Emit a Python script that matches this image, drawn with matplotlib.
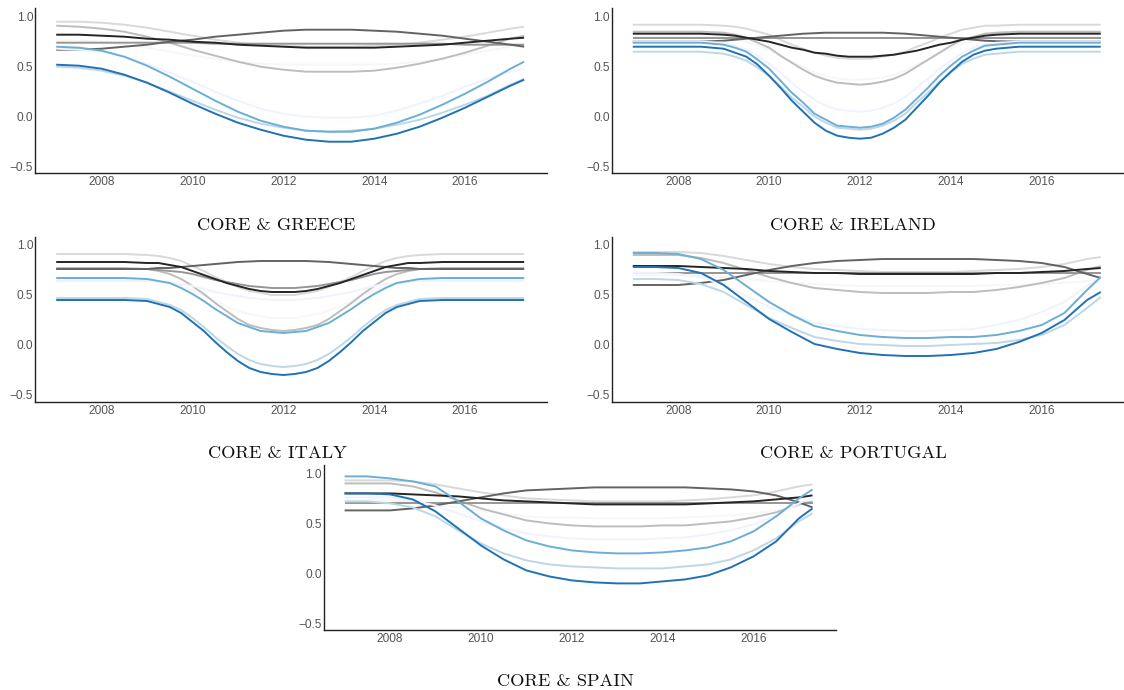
import matplotlib
matplotlib.use("Agg")
import matplotlib.pyplot as plt

# ---------------- data ----------------
# half-year grid (Greece, Portugal, Spain)
years = [2007.0, 2007.5, 2008.0, 2008.5, 2009.0, 2009.5, 2010.0, 2010.5, 2011.0, 2011.5,
         2012.0, 2012.5, 2013.0, 2013.5, 2014.0, 2014.5, 2015.0, 2015.5, 2016.0, 2016.5,
         2017.0, 2017.3]
# finer grid around the sharp dip (Ireland, Italy)
years_q = [2007.0, 2008.0, 2008.5, 2009.0, 2009.25, 2009.5, 2009.75, 2010.0, 2010.25, 2010.5,
           2010.75, 2011.0, 2011.25, 2011.5, 2011.75, 2012.0, 2012.25, 2012.5, 2012.75, 2013.0,
           2013.25, 2013.5, 2013.75, 2014.0, 2014.25, 2014.5, 2014.75, 2015.0, 2015.5, 2016.0,
           2017.0, 2017.3]

xticks = [2008, 2010, 2012, 2014, 2016]
yticks = [-0.5, 0.0, 0.5, 1.0]
ytick_labels = ["\u22120.5", "0.0", "0.5", "1.0"]

titles = ["CORE & GREECE", "CORE & IRELAND", "CORE & ITALY", "CORE & PORTUGAL", "CORE & SPAIN"]

# series order: 6 core-core pairs (greys), 4 core-periphery pairs (blues)
gray_colors = ["#f7f7f7", "#d9d9d9", "#bdbdbd", "#969696", "#636363", "#252525"]
blue_colors = ["#eff3ff", "#bdd7e7", "#6baed6", "#2171b5"]

# Greece
g_vlgray = [0.77,0.76,0.75,0.72,0.69,0.65,0.61,0.58,0.55,0.53,0.52,0.52,0.52,0.52,0.52,0.53,0.55,0.58,0.62,0.66,0.70,0.72]
g_lgray = [0.95,0.95,0.94,0.92,0.89,0.85,0.81,0.77,0.74,0.72,0.71,0.70,0.70,0.70,0.71,0.72,0.74,0.77,0.80,0.84,0.88,0.90]
g_gray = [0.91,0.90,0.88,0.85,0.80,0.74,0.67,0.61,0.55,0.50,0.47,0.45,0.45,0.45,0.46,0.49,0.53,0.58,0.64,0.71,0.78,0.81]
g_mgray = [0.74,0.74,0.74,0.74,0.74,0.74,0.74,0.73,0.73,0.73,0.73,0.73,0.73,0.73,0.73,0.73,0.73,0.73,0.72,0.72,0.72,0.72]
g_dgray = [0.67,0.67,0.68,0.70,0.72,0.75,0.77,0.80,0.82,0.84,0.86,0.87,0.87,0.87,0.86,0.85,0.83,0.81,0.78,0.75,0.72,0.70]
g_black = [0.82,0.82,0.81,0.80,0.78,0.77,0.75,0.74,0.72,0.71,0.70,0.69,0.69,0.69,0.69,0.70,0.71,0.72,0.74,0.76,0.78,0.79]
g_lav = [0.68,0.67,0.65,0.60,0.53,0.44,0.35,0.25,0.16,0.08,0.03,0.00,-0.01,-0.01,0.01,0.06,0.13,0.21,0.30,0.38,0.45,0.48]
g_lblue = [0.50,0.49,0.46,0.41,0.34,0.25,0.16,0.07,-0.01,-0.07,-0.11,-0.14,-0.15,-0.14,-0.12,-0.08,-0.03,0.04,0.12,0.21,0.32,0.38]
g_mblue = [0.70,0.69,0.66,0.60,0.51,0.40,0.28,0.16,0.05,-0.04,-0.10,-0.14,-0.15,-0.15,-0.12,-0.06,0.02,0.12,0.23,0.35,0.48,0.55]
g_dblue = [0.52,0.51,0.48,0.42,0.34,0.24,0.13,0.03,-0.06,-0.13,-0.19,-0.23,-0.25,-0.25,-0.22,-0.17,-0.10,-0.01,0.09,0.20,0.31,0.37]

# Ireland (on years_q)
i_vlgray = [0.80,0.80,0.80,0.79,0.77,0.75,0.71,0.67,0.61,0.55,0.50,0.44,0.41,0.38,0.37,0.37,0.38,0.39,0.42,0.46,0.52,0.57,0.63,0.68,0.73,0.76,0.78,0.79,0.80,0.80,0.80,0.80]
i_lgray = [0.92,0.92,0.92,0.91,0.90,0.88,0.85,0.82,0.77,0.72,0.68,0.64,0.61,0.59,0.58,0.58,0.58,0.60,0.62,0.65,0.70,0.74,0.79,0.83,0.87,0.89,0.91,0.91,0.92,0.92,0.92,0.92]
i_gray = [0.85,0.85,0.85,0.84,0.82,0.79,0.74,0.69,0.61,0.54,0.47,0.41,0.37,0.34,0.33,0.32,0.33,0.35,0.38,0.43,0.50,0.57,0.64,0.71,0.77,0.80,0.83,0.84,0.85,0.85,0.85,0.85]
i_mgray = [0.79,0.79,0.79,0.79,0.79,0.79,0.79,0.79,0.79,0.79,0.79,0.79,0.79,0.79,0.79,0.79,0.79,0.79,0.79,0.79,0.79,0.79,0.79,0.79,0.79,0.79,0.79,0.79,0.79,0.79,0.79,0.79]
i_dgray = [0.75,0.75,0.75,0.76,0.77,0.78,0.79,0.80,0.81,0.82,0.83,0.835,0.84,0.84,0.84,0.84,0.84,0.84,0.835,0.83,0.82,0.81,0.80,0.79,0.78,0.77,0.76,0.755,0.75,0.75,0.75,0.75]
i_black = [0.83,0.83,0.83,0.82,0.81,0.79,0.77,0.75,0.72,0.69,0.67,0.64,0.63,0.61,0.60,0.60,0.60,0.61,0.62,0.64,0.66,0.69,0.72,0.74,0.77,0.79,0.81,0.82,0.83,0.83,0.83,0.83]
i_lav = [0.75,0.75,0.75,0.74,0.71,0.67,0.61,0.53,0.44,0.34,0.25,0.17,0.11,0.07,0.06,0.05,0.06,0.09,0.13,0.20,0.29,0.38,0.48,0.56,0.64,0.69,0.72,0.74,0.75,0.75,0.75,0.75]
i_lblue = [0.65,0.65,0.65,0.63,0.60,0.56,0.49,0.41,0.30,0.19,0.10,0.00,-0.06,-0.11,-0.12,-0.13,-0.12,-0.09,-0.04,0.03,0.14,0.24,0.35,0.44,0.53,0.58,0.62,0.63,0.65,0.65,0.65,0.65]
i_mblue = [0.74,0.74,0.74,0.72,0.69,0.65,0.57,0.48,0.36,0.24,0.14,0.03,-0.03,-0.09,-0.10,-0.11,-0.10,-0.07,-0.01,0.07,0.18,0.29,0.41,0.51,0.60,0.66,0.71,0.72,0.74,0.74,0.74,0.74]
i_dblue = [0.70,0.70,0.70,0.68,0.64,0.60,0.52,0.41,0.29,0.16,0.05,-0.06,-0.14,-0.19,-0.21,-0.22,-0.21,-0.17,-0.11,-0.03,0.09,0.21,0.34,0.45,0.55,0.62,0.66,0.68,0.70,0.70,0.70,0.70]

# Italy (on years_q)
t_vlgray = [0.66,0.66,0.66,0.65,0.64,0.62,0.59,0.55,0.50,0.44,0.39,0.34,0.31,0.29,0.27,0.27,0.27,0.29,0.31,0.34,0.39,0.44,0.50,0.55,0.59,0.62,0.64,0.65,0.66,0.66,0.66,0.66]
t_lgray = [0.91,0.91,0.91,0.90,0.89,0.87,0.84,0.79,0.74,0.68,0.63,0.58,0.54,0.52,0.50,0.50,0.50,0.52,0.54,0.58,0.63,0.68,0.74,0.79,0.84,0.87,0.89,0.90,0.91,0.91,0.91,0.91]
t_gray = [0.77,0.77,0.77,0.76,0.74,0.71,0.66,0.59,0.51,0.42,0.34,0.26,0.20,0.17,0.15,0.14,0.15,0.17,0.20,0.26,0.34,0.42,0.51,0.59,0.66,0.71,0.74,0.76,0.77,0.77,0.77,0.77]
t_mgray = [0.76,0.76,0.76,0.76,0.75,0.74,0.73,0.71,0.68,0.65,0.63,0.61,0.59,0.58,0.57,0.57,0.57,0.58,0.59,0.61,0.63,0.65,0.68,0.71,0.73,0.74,0.75,0.76,0.76,0.76,0.76,0.76]
t_dgray = [0.76,0.76,0.76,0.76,0.77,0.77,0.78,0.79,0.80,0.81,0.82,0.83,0.835,0.84,0.84,0.84,0.84,0.84,0.835,0.83,0.82,0.81,0.80,0.79,0.78,0.77,0.77,0.76,0.76,0.76,0.76,0.76]
t_black = [0.83,0.83,0.83,0.82,0.82,0.80,0.78,0.74,0.70,0.66,0.62,0.59,0.56,0.54,0.53,0.53,0.53,0.54,0.56,0.59,0.62,0.66,0.70,0.74,0.78,0.80,0.82,0.82,0.83,0.83,0.83,0.83]
t_lav = [0.64,0.64,0.64,0.64,0.63,0.62,0.61,0.59,0.56,0.53,0.51,0.49,0.47,0.46,0.45,0.45,0.45,0.46,0.47,0.49,0.51,0.53,0.56,0.59,0.61,0.62,0.63,0.64,0.64,0.64,0.64,0.64]
t_lblue = [0.47,0.47,0.47,0.46,0.43,0.40,0.35,0.27,0.18,0.08,-0.01,-0.09,-0.15,-0.19,-0.21,-0.22,-0.21,-0.19,-0.15,-0.09,-0.01,0.08,0.18,0.27,0.35,0.40,0.43,0.46,0.47,0.47,0.47,0.47]
t_mblue = [0.67,0.67,0.67,0.66,0.64,0.62,0.57,0.51,0.44,0.36,0.29,0.22,0.18,0.14,0.13,0.12,0.13,0.14,0.18,0.22,0.29,0.36,0.44,0.51,0.57,0.62,0.64,0.66,0.67,0.67,0.67,0.67]
t_dblue = [0.45,0.45,0.45,0.44,0.41,0.38,0.32,0.23,0.14,0.03,-0.07,-0.16,-0.23,-0.27,-0.29,-0.30,-0.29,-0.27,-0.23,-0.16,-0.07,0.03,0.14,0.23,0.32,0.38,0.41,0.44,0.45,0.45,0.45,0.45]

# Portugal
p_vlgray = [0.70,0.70,0.70,0.69,0.68,0.66,0.64,0.62,0.61,0.60,0.59,0.59,0.59,0.59,0.59,0.59,0.60,0.60,0.61,0.62,0.64,0.65]
p_lgray = [0.93,0.93,0.93,0.92,0.89,0.85,0.81,0.78,0.76,0.75,0.74,0.73,0.73,0.73,0.73,0.74,0.75,0.76,0.78,0.81,0.86,0.88]
p_gray = [0.90,0.90,0.90,0.87,0.82,0.75,0.68,0.62,0.57,0.55,0.53,0.52,0.52,0.52,0.53,0.53,0.55,0.58,0.62,0.67,0.75,0.79]
p_mgray = [0.72,0.72,0.72,0.72,0.72,0.72,0.72,0.72,0.72,0.72,0.72,0.72,0.72,0.72,0.72,0.72,0.72,0.72,0.72,0.72,0.72,0.72]
p_dgray = [0.60,0.60,0.60,0.62,0.65,0.70,0.75,0.79,0.82,0.84,0.85,0.86,0.86,0.86,0.86,0.86,0.85,0.84,0.82,0.78,0.71,0.67]
p_black = [0.79,0.79,0.79,0.78,0.77,0.76,0.74,0.73,0.72,0.72,0.71,0.71,0.71,0.71,0.71,0.71,0.72,0.72,0.73,0.74,0.76,0.77]
p_lav = [0.72,0.72,0.71,0.68,0.60,0.49,0.38,0.30,0.22,0.19,0.16,0.15,0.14,0.14,0.15,0.16,0.20,0.25,0.33,0.43,0.59,0.66]
p_lblue = [0.66,0.66,0.65,0.61,0.53,0.40,0.27,0.17,0.08,0.04,0.01,0.00,-0.01,-0.01,0.00,0.01,0.02,0.05,0.10,0.20,0.37,0.48]
p_mblue = [0.92,0.92,0.91,0.86,0.75,0.59,0.43,0.30,0.19,0.14,0.10,0.08,0.07,0.07,0.08,0.08,0.10,0.14,0.20,0.32,0.55,0.68]
p_dblue = [0.78,0.78,0.77,0.72,0.60,0.43,0.26,0.13,0.01,-0.04,-0.08,-0.10,-0.11,-0.11,-0.10,-0.08,-0.04,0.03,0.12,0.25,0.45,0.53]

# Spain
s_vlgray = [0.73,0.73,0.73,0.72,0.69,0.66,0.63,0.60,0.57,0.56,0.56,0.55,0.55,0.55,0.55,0.56,0.57,0.58,0.60,0.63,0.67,0.70]
s_lgray = [0.93,0.93,0.93,0.92,0.89,0.85,0.81,0.78,0.75,0.74,0.73,0.72,0.72,0.72,0.72,0.73,0.74,0.76,0.78,0.82,0.87,0.89]
s_gray = [0.90,0.90,0.90,0.87,0.81,0.73,0.65,0.59,0.53,0.50,0.48,0.47,0.47,0.47,0.48,0.48,0.50,0.52,0.56,0.61,0.69,0.72]
s_mgray = [0.70,0.70,0.70,0.70,0.70,0.70,0.70,0.70,0.70,0.70,0.70,0.70,0.70,0.70,0.70,0.70,0.70,0.70,0.70,0.70,0.70,0.70]
s_dgray = [0.63,0.63,0.63,0.65,0.68,0.72,0.76,0.80,0.83,0.84,0.85,0.86,0.86,0.86,0.86,0.86,0.85,0.84,0.82,0.78,0.71,0.66]
s_black = [0.80,0.80,0.80,0.79,0.78,0.77,0.75,0.73,0.72,0.71,0.70,0.69,0.69,0.69,0.69,0.69,0.70,0.71,0.72,0.74,0.76,0.78]
s_lav = [0.76,0.76,0.76,0.73,0.68,0.60,0.52,0.45,0.40,0.37,0.35,0.34,0.34,0.34,0.35,0.36,0.39,0.43,0.49,0.58,0.70,0.76]
s_lblue = [0.72,0.72,0.70,0.66,0.57,0.43,0.30,0.20,0.13,0.09,0.07,0.06,0.05,0.05,0.05,0.07,0.09,0.14,0.23,0.35,0.52,0.60]
s_mblue = [0.97,0.97,0.95,0.92,0.87,0.72,0.55,0.43,0.33,0.27,0.23,0.21,0.20,0.20,0.21,0.23,0.26,0.32,0.42,0.57,0.75,0.84]
s_dblue = [0.80,0.80,0.79,0.74,0.62,0.45,0.28,0.14,0.03,-0.03,-0.07,-0.09,-0.10,-0.10,-0.08,-0.06,-0.02,0.06,0.17,0.32,0.55,0.65]

panels = [
    (years, [g_vlgray, g_lgray, g_gray, g_mgray, g_dgray, g_black], [g_lav, g_lblue, g_mblue, g_dblue]),
    (years_q, [i_vlgray, i_lgray, i_gray, i_mgray, i_dgray, i_black], [i_lav, i_lblue, i_mblue, i_dblue]),
    (years_q, [t_vlgray, t_lgray, t_gray, t_mgray, t_dgray, t_black], [t_lav, t_lblue, t_mblue, t_dblue]),
    (years, [p_vlgray, p_lgray, p_gray, p_mgray, p_dgray, p_black], [p_lav, p_lblue, p_mblue, p_dblue]),
    (years, [s_vlgray, s_lgray, s_gray, s_mgray, s_dgray, s_black], [s_lav, s_lblue, s_mblue, s_dblue]),
]

# ---------------- layout ----------------
W, H = 1124, 690
fig = plt.figure(figsize=(W / 100, H / 100), dpi=100)
fig.patch.set_facecolor("white")

ax_w, ax_h = 512, 165
# (left px, top px) of each axes; title (center x px, baseline y px)
ax_pos = [(35.3, 8.3), (611.9, 8.3), (35.3, 236.6), (611.9, 236.6), (323.7, 465.0)]
title_pos = [(276, 230.5), (853, 230.5), (277, 458.5), (853, 458.5), (565, 686.5)]

for k, (xs, grays, blues) in enumerate(panels):
    lx, ty = ax_pos[k]
    ax = fig.add_axes([lx / W, 1 - (ty + ax_h) / H, ax_w / W, ax_h / H])
    for series, col in zip(grays, gray_colors):
        ax.plot(xs, series, color=col, lw=1.4, solid_capstyle="butt", solid_joinstyle="round")
    for series, col in zip(blues, blue_colors):
        ax.plot(xs, series, color=col, lw=1.4, solid_capstyle="butt", solid_joinstyle="round")
    ax.set_xlim(2006.54, 2017.81)
    ax.set_ylim(-0.566, 1.084)
    ax.set_xticks(xticks)
    ax.set_xticklabels([str(v) for v in xticks])
    ax.set_yticks(yticks)
    ax.set_yticklabels(ytick_labels)
    for s in ["top", "right"]:
        ax.spines[s].set_visible(False)
    for s in ["left", "bottom"]:
        ax.spines[s].set_color("#222222")
        ax.spines[s].set_linewidth(1.0)
    ax.tick_params(axis="both", length=0, labelsize=8.6, labelcolor="#555555")
    ax.tick_params(axis="x", pad=2.2)
    ax.tick_params(axis="y", pad=1.5)
    for lab in ax.get_xticklabels() + ax.get_yticklabels():
        lab.set_fontfamily("Liberation Sans")
    ax.set_facecolor("white")

    cx, by = title_pos[k]
    fig.text(cx / W, 1 - by / H, titles[k], ha="center", va="baseline",
             fontsize=13.2, color="#111111", fontfamily="cmr10")

fig.savefig("out.png", dpi=100)
